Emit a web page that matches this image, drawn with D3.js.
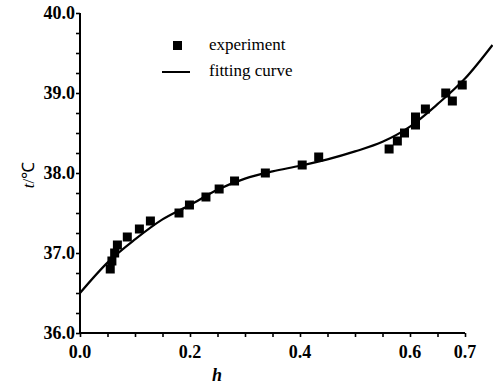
<!DOCTYPE html>
<html><head><meta charset="utf-8">
<script src="https://cdn.jsdelivr.net/npm/d3@7"></script>
</head>
<body style="margin:0;background:#fff">
<svg id="chart" width="493" height="385" style="display:block" font-family="Liberation Serif"></svg>
<script>
// experiment points (h, t)
const expH = [0.055, 0.058, 0.063, 0.068, 0.086, 0.108, 0.128, 0.18, 0.199, 0.229, 0.253, 0.281,
  0.337, 0.404, 0.434, 0.562, 0.577, 0.59, 0.61, 0.61, 0.628, 0.665, 0.677, 0.695];
const expT = [36.8, 36.9, 37.0, 37.1, 37.2, 37.3, 37.4, 37.5, 37.6, 37.7, 37.8, 37.9,
  38.0, 38.1, 38.2, 38.3, 38.4, 38.5, 38.6, 38.7, 38.8, 39.0, 38.9, 39.1];

// fitting curve
const fitH = [0, 0.05, 0.1, 0.15, 0.2, 0.25, 0.3, 0.35, 0.4, 0.45, 0.5, 0.55, 0.6, 0.65, 0.7, 0.75];
const fitT = [36.5, 36.88, 37.17, 37.42, 37.6, 37.79, 37.93, 38.02, 38.09, 38.17, 38.27, 38.39, 38.58, 38.86, 39.18, 39.6];

const xTickLabels = [0.0, 0.2, 0.4, 0.6, 0.7];
const yTickLabels = [36.0, 37.0, 38.0, 39.0, 40.0];
const legendLabels = ['experiment', 'fitting curve'];

const FONT = 'Liberation Serif';

function draw() {
  const svg = d3.select('#chart');
  svg.selectAll('*').remove();

  const x = d3.scaleLinear().domain([0, 0.7]).range([80, 465]);
  const y = d3.scaleLinear().domain([36, 40]).range([333, 13]);

  // axis lines and ticks (labels drawn separately)
  const xAxis = svg.append('g').attr('transform', `translate(0,${y(36)})`);
  xAxis.call(d3.axisBottom(x).tickValues(d3.range(0, 0.7001, 0.05)).tickSize(4).tickFormat(''));
  xAxis.select('.domain').attr('stroke-width', 2).attr('d', `M${x(0)},0H${x(0.7)}`);
  xAxis.selectAll('.tick line').attr('stroke-width', 1.6);
  xAxis.selectAll('.tick text').remove();

  const yAxis = svg.append('g').attr('transform', `translate(${x(0)},0)`);
  yAxis.call(d3.axisLeft(y).tickValues(d3.range(36, 40.001, 0.25)).tickSize(4).tickFormat(''));
  yAxis.select('.domain').attr('stroke-width', 2).attr('d', `M0,${y(36)}V${y(40)}`);
  yAxis.selectAll('.tick line').attr('stroke-width', 1.6);
  yAxis.selectAll('.tick text').remove();

  // tick labels
  svg.append('g').selectAll('text')
    .data(xTickLabels)
    .enter()
    .append('text')
    .attr('x', d => x(d))
    .attr('y', y(36) + 25)
    .attr('text-anchor', 'middle')
    .attr('font-family', FONT)
    .attr('font-size', 18)
    .attr('font-weight', 'bold')
    .text(d => d3.format('.1f')(d));

  svg.append('g').selectAll('text')
    .data(yTickLabels)
    .enter()
    .append('text')
    .attr('x', x(0) - 5)
    .attr('y', d => y(d) + 6)
    .attr('text-anchor', 'end')
    .attr('font-family', FONT)
    .attr('font-size', 18)
    .attr('font-weight', 'bold')
    .text(d => d3.format('.1f')(d));

  // axis titles
  svg.append('text')
    .attr('x', 217).attr('y', 381)
    .attr('text-anchor', 'middle')
    .attr('font-family', FONT)
    .attr('font-size', 18)
    .attr('font-style', 'italic')
    .attr('font-weight', 'bold')
    .text('h');

  const yTitle = svg.append('text')
    .attr('transform', 'translate(34,175) rotate(-90)')
    .attr('text-anchor', 'middle')
    .attr('font-family', FONT)
    .attr('font-size', 17);
  yTitle.append('tspan').attr('font-style', 'italic').text('t');
  yTitle.append('tspan').text('/℃');

  // fitting curve
  const line = d3.line()
    .x((d, i) => x(fitH[i]))
    .y((d, i) => y(fitT[i]))
    .curve(d3.curveMonotoneX);

  svg.append('path')
    .datum(fitH)
    .attr('d', line)
    .attr('fill', 'none')
    .attr('stroke', '#000')
    .attr('stroke-width', 2.2);

  // experiment points
  svg.append('g').selectAll('rect')
    .data(expH)
    .enter()
    .append('rect')
    .attr('x', (d, i) => x(d) - 4.5)
    .attr('y', (d, i) => y(expT[i]) - 4.5)
    .attr('width', 9)
    .attr('height', 9)
    .attr('fill', '#000');

  // legend
  const legend = svg.append('g');
  legend.append('rect')
    .attr('x', 173).attr('y', 41).attr('width', 9).attr('height', 9)
    .attr('fill', '#000');
  legend.append('line')
    .attr('x1', 162).attr('x2', 190).attr('y1', 72).attr('y2', 72)
    .attr('stroke', '#000').attr('stroke-width', 2);
  legend.selectAll('.lbl')
    .data(legendLabels)
    .enter()
    .append('text')
    .attr('x', 209)
    .attr('y', (d, i) => 50 + i * 26)
    .attr('font-family', FONT)
    .attr('font-size', 17)
    .text(d => d);
}

draw();

// make sure the serif face is loaded, then redraw with it
if (document.fonts && document.fonts.load) {
  Promise.all([
    document.fonts.load('17px "Liberation Serif"'),
    document.fonts.load('bold 18px "Liberation Serif"'),
    document.fonts.load('italic bold 18px "Liberation Serif"')
  ]).then(draw, draw);
}
</script>
</body>
</html>
